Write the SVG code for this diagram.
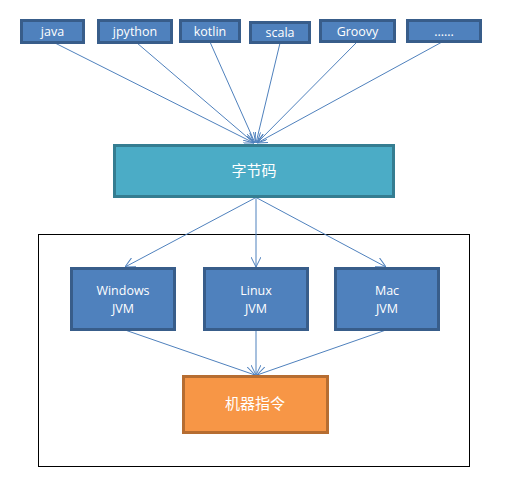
<svg xmlns="http://www.w3.org/2000/svg" width="528" height="494" viewBox="0 0 528 494">
<style>
.lang{fill:#4F81BD;stroke:#385D8A;stroke-width:3}
.jvm{fill:#4F81BD;stroke:#385D8A;stroke-width:3}
.t{fill:#FFFFFF;font-family:"Open Sans","Noto Sans CJK SC",sans-serif;text-anchor:middle}
.s{font-size:12.5px}
.c{stroke:#4F81BD;stroke-width:1;fill:none;marker-end:url(#ah)}
</style>
<defs>
<marker id="ah" viewBox="0 0 10 10" refX="10" refY="5" markerWidth="10" markerHeight="10" markerUnits="userSpaceOnUse" orient="auto">
<path d="M0,0 L10,5 L0,10" fill="none" stroke="#4F81BD" stroke-width="1"/>
</marker>
</defs>
<rect width="528" height="494" fill="#FFFFFF"/>
<rect id="container" x="38.5" y="234.5" width="431" height="232" fill="none" stroke="#000000" stroke-width="1"/>
<g id="connectors">
<line class="c" x1="55" y1="43" x2="254" y2="143"/>
<line class="c" x1="137" y1="43" x2="254" y2="143"/>
<line class="c" x1="210" y1="42" x2="255" y2="143"/>
<line class="c" x1="280" y1="43" x2="256" y2="143"/>
<line class="c" x1="357" y1="42" x2="257" y2="143"/>
<line class="c" x1="442" y1="42" x2="257" y2="143"/>
<line class="c" x1="255" y1="198" x2="125" y2="267"/>
<line class="c" x1="256" y1="198" x2="256" y2="267"/>
<line class="c" x1="257" y1="198" x2="386" y2="267"/>
<line class="c" x1="125" y1="330" x2="255" y2="375"/>
<line class="c" x1="256" y1="330" x2="256" y2="375"/>
<line class="c" x1="386" y1="330" x2="257" y2="375"/>
</g>
<g id="java"><rect class="lang" x="21.5" y="20.5" width="62" height="22"/><text class="t s" x="52.5" y="36">java</text></g>
<g id="jpython"><rect class="lang" x="98.5" y="20.5" width="73" height="22"/><text class="t s" x="135" y="36">jpython</text></g>
<g id="kotlin"><rect class="lang" x="180.5" y="20.5" width="59" height="21"/><text class="t s" x="210" y="35.5">kotlin</text></g>
<g id="scala"><rect class="lang" x="250.5" y="22.5" width="59" height="20"/><text class="t s" x="280" y="37">scala</text></g>
<g id="groovy"><rect class="lang" x="320.5" y="20.5" width="74" height="21"/><text class="t s" x="357.5" y="36">Groovy</text></g>
<g id="more"><rect class="lang" x="407.5" y="20.5" width="73" height="21"/><text class="t s" x="444" y="36">......</text></g>
<g id="bytecode"><rect x="114.5" y="145.5" width="279" height="51" fill="#4BACC6" stroke="#357D91" stroke-width="3"/><text class="t" x="254" y="176" font-size="15">字节码</text></g>
<g id="windows"><rect class="jvm" x="71.5" y="268.5" width="103" height="61"/><text class="t s" x="123" y="295">Windows</text><text class="t s" x="123" y="313">JVM</text></g>
<g id="linux"><rect class="jvm" x="204.5" y="268.5" width="103" height="61"/><text class="t s" x="256" y="295">Linux</text><text class="t s" x="256" y="313">JVM</text></g>
<g id="mac"><rect class="jvm" x="335.5" y="268.5" width="103" height="61"/><text class="t s" x="387" y="295">Mac</text><text class="t s" x="387" y="313">JVM</text></g>
<g id="machine"><rect x="183.5" y="376.5" width="144" height="56" fill="#F79646" stroke="#B66D31" stroke-width="3"/><text class="t" x="255" y="409" font-size="15">机器指令</text></g>
</svg>
